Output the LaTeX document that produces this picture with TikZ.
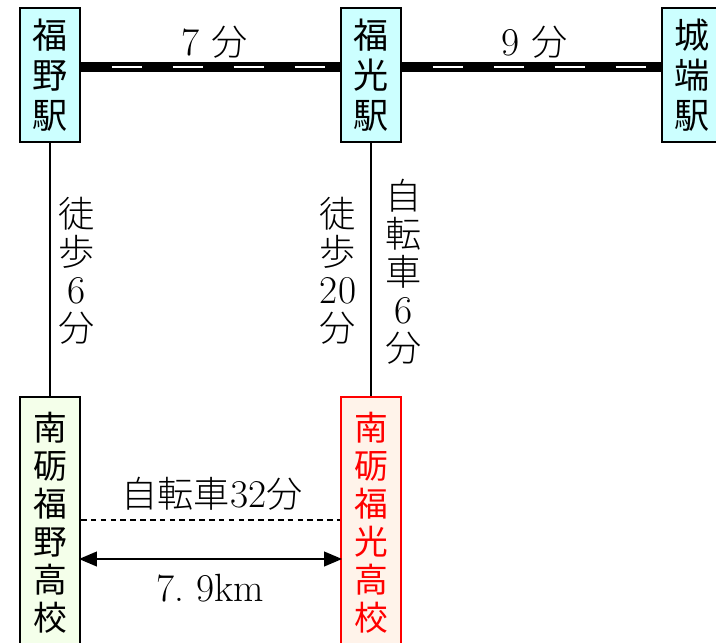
\documentclass[tikz,border=0pt]{standalone}
\usepackage{fontspec}
\newfontfamily\jpfont{Noto Sans CJK JP}
\newfontfamily\jplight{Noto Sans CJK JP Light}[Scale=0.92]
\newcommand{\jj}[1]{{\jplight #1}}
\usepackage{tikz}
\usetikzlibrary{arrows,positioning,calc}
\definecolor{stationfill}{HTML}{CCFFFF}
\definecolor{greenfill}{HTML}{F4FFEA}
\definecolor{redfill}{HTML}{FFF3EA}
\tikzstyle{station} = [rectangle, draw=black, line width=1.4pt, fill=stationfill, minimum width=42.7pt, minimum height=95.3pt, inner sep=0pt, align=center, font=\jpfont\fontsize{25}{28.5}\selectfont]
\tikzstyle{school} = [rectangle, line width=1.4pt, minimum width=42.7pt, minimum height=179pt, inner sep=0pt, align=center, font=\jpfont\fontsize{24}{27}\selectfont]
\tikzstyle{tate} = [align=center, inner sep=0pt, font=\fontsize{28}{27}\selectfont]
\tikzstyle{arrow} = [line width=2pt, <->, >=triangle 45]

\begin{document}
\begin{tikzpicture}[x=0.025cm, y=-0.025cm]
		\useasboundingbox (0,0) rectangle (716,643);
		\coordinate (fukuno) at (50,75);
		\coordinate (fukumitsu) at (371,75);
		\coordinate (johana) at (692,75);
		\coordinate (fukunohs) at (50,523);
		\coordinate (fukumitsuhs) at (371,523);
		% Stations
		\node[station, name=fukuno] at (fukuno) {福\\野\\駅};
		\node[station, name=fukumitsu] at (fukumitsu) {福\\光\\駅};
		\node[station, name=johana] at (johana) {城\\端\\駅};
		% Schools
		\node[school, draw=black, fill=greenfill, name=fukunohs] at (fukunohs) {南\\砺\\福\\野\\高\\校};
		\node[school, draw=red, fill=redfill, text=red, name=fukumitsuhs] at (fukumitsuhs) {南\\砺\\福\\光\\高\\校};
		% Railway
		\foreach \a/\b in {fukuno/fukumitsu, fukumitsu/johana} {
			\draw[line width=6.6pt] ($(\a.east)+(0,-8)$) -- ($(\b.west)+(0,-8)$);
			\draw[line width=2pt, white, dash pattern=on 21.3pt off 22pt, dash phase=21.3pt] ($(\a.east)+(0,-8)$) -- ($(\b.west)+(0,-8)$);
		}
		\node[name=railtime1, font=\fontsize{28}{28}\selectfont] at (215,42) {7\hspace{0.3em}\jj{分}};
		\node[name=railtime2, font=\fontsize{28}{28}\selectfont] at (535,42) {9\hspace{0.3em}\jj{分}};
		% Station to school
		\draw[line width=1.4pt] (fukuno) -- (fukunohs);
		\draw[line width=1.4pt] (fukumitsu) -- (fukumitsuhs);
		\node[tate, name=walkfukuno] at (77,271) {\jj{徒}\\\jj{歩}\\6\\\jj{分}};
		\node[tate, name=walkfukumitsu] at (338,271) {\jj{徒}\\\jj{歩}\\20\\\jj{分}};
		\node[tate, name=bikefukumitsu] at (404,272) {\jj{自}\\\jj{転}\\\jj{車}\\6\\\jj{分}};
		% Between schools
		\draw[line width=1.2pt, dash pattern=on 4pt off 3pt] ($(fukunohs.east)+(0,-3)$) -- ($(fukumitsuhs.west)+(0,-3)$);
		\draw[arrow] ($(fukunohs.east)+(-2,36)$) -- ($(fukumitsuhs.west)+(2,36)$);
		\node[name=bikeschool, font=\fontsize{28}{27}\selectfont] at (212,494) {\jj{自転車}32\jj{分}};
		\node[name=distance, font=\fontsize{28}{27}\selectfont] at (210,588) {7.\ 9km};
\end{tikzpicture}
\end{document}
